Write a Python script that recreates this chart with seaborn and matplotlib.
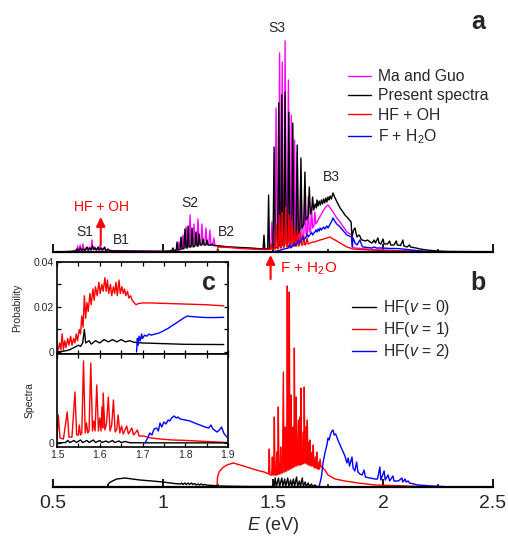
import numpy as np
import matplotlib
matplotlib.use("Agg")
import matplotlib.pyplot as plt
import seaborn as sns
from matplotlib.ticker import MultipleLocator, FixedLocator
from matplotlib.patches import ArrowStyle

# ---------------- data (E in eV, intensity in arbitrary units) ----------------
# Panel a
a_ma = np.array([
 (0.50,0),(0.58,0.5),(0.60,1),(0.607,1),(0.612,6),(0.617,1.5),(0.62,1.5),(0.623,7),(0.628,1.5),(0.632,1.5),
 (0.636,8),(0.641,2),(0.647,2),(0.65,4),(0.655,2),(0.662,2),(0.665,5),(0.67,2),(0.673,2),(0.677,12),(0.682,2.5),
 (0.687,2.5),(0.69,5),(0.695,2),(0.70,2),(0.705,4),(0.709,2),(0.714,7),(0.719,2),(0.727,2),(0.732,3),(0.74,1.5),
 (0.80,1.2),(0.90,1),(1.00,0.8),(1.05,1),(1.068,2),(1.073,10),(1.078,2.5),(1.086,3),(1.091,17),(1.096,4),(1.100,5),
 (1.105,25),(1.110,5),(1.118,6),(1.123,37),(1.128,6),(1.136,7),(1.141,28),(1.146,7),(1.154,8),(1.159,33),(1.164,8),
 (1.172,8),(1.177,28),(1.182,8),(1.190,8),(1.195,24),(1.200,8),(1.208,7),(1.213,22),(1.218,7),(1.226,7),(1.231,14),
 (1.236,7),(1.25,6),(1.30,5),(1.40,3.5),(1.46,2.5),(1.49,3),(1.495,30),(1.50,4),(1.509,4),(1.514,144),(1.519,5),
 (1.525,6),(1.530,199),(1.535,6),(1.538,7),(1.542,190),(1.547,7),(1.551,8),(1.555,211),(1.560,8),(1.565,9),
 (1.570,172),(1.575,9),(1.579,10),(1.583,137),(1.588,10),(1.593,11),(1.598,112),(1.603,11),(1.606,12),(1.61,100),
 (1.615,13),(1.622,14),(1.627,74),(1.632,15),(1.640,17),(1.645,62),(1.65,18),(1.656,19),(1.66,55),(1.665,20),
 (1.671,22),(1.675,45),(1.68,24),(1.686,26),(1.69,40),(1.695,28),(1.70,30),(1.71,34),(1.72,38),(1.73,42),(1.74,45),
 (1.75,47),(1.76,44),(1.773,40),(1.79,34),(1.805,30),(1.82,25),(1.836,20),(1.858,17),(1.862,5),(1.873,4),(1.9,3.5),
 (1.95,2.5),(2.0,2),(2.1,1),(2.2,0.3),(2.5,0)])

a_black = np.array([
 (0.50,0),(0.58,0.5),(0.60,1),(0.61,3),(0.615,1),(0.625,4),(0.63,1.5),(0.64,3),(0.645,1.5),(0.655,5),(0.66,2),
 (0.668,4),(0.673,2),(0.68,6),(0.685,2.5),(0.692,4),(0.697,2),(0.705,5),(0.71,2),(0.72,4),(0.725,2),(0.735,5),
 (0.74,1.5),(0.75,3),(0.76,1.2),(0.80,1),(0.90,0.8),(1.00,0.6),(1.03,1),(1.040,1.5),(1.045,4),(1.05,1.5),(1.060,2),
 (1.064,10),(1.068,2),(1.078,2.5),(1.082,15),(1.087,3),(1.095,3.5),(1.100,23),(1.105,4),(1.110,4),(1.114,26),
 (1.119,5),(1.127,5),(1.132,24),(1.137,5),(1.145,6),(1.150,20),(1.155,6),(1.160,6),(1.164,18),(1.169,7),(1.177,7),
 (1.182,13),(1.187,7),(1.195,7),(1.200,12),(1.205,7),(1.218,7),(1.223,8),(1.23,6.5),(1.26,6),(1.30,5),(1.35,4.5),
 (1.40,4),(1.45,3),(1.455,3),(1.459,17),(1.463,3),(1.476,3),(1.480,57),(1.484,3),(1.50,4),(1.505,105),(1.51,4),
 (1.521,5),(1.526,149),(1.531,6),(1.536,6),(1.540,157),(1.545,7),(1.55,8),(1.555,160),(1.560,8),(1.567,10),
 (1.572,140),(1.577,11),(1.585,12),(1.59,129),(1.595,14),(1.605,16),(1.61,107),(1.615,18),(1.622,22),(1.627,94),
 (1.632,24),(1.640,28),(1.645,80),(1.650,32),(1.660,36),(1.665,65),(1.670,38),(1.676,42),(1.68,55),(1.685,42),
 (1.692,48),(1.697,44),(1.70,52),(1.705,46),(1.71,51),(1.715,47),(1.72,52),(1.725,48),(1.73,53),(1.735,49),
 (1.74,54),(1.745,50),(1.75,55),(1.755,52),(1.76,56),(1.765,53),(1.773,59),(1.78,55),(1.791,50),(1.805,44),
 (1.815,41),(1.827,37),(1.84,34),(1.855,30),(1.859,15),(1.866,22),(1.873,24),(1.878,18),(1.882,15),(1.89,17),
 (1.895,16),(1.9,13),(1.905,12),(1.92,11),(1.93,12),(1.941,10),(1.95,9),(1.96,12),(1.965,9),(1.977,14),(1.982,9),
 (1.99,8),(2.0,13),(2.005,8),(2.02,8),(2.03,11),(2.035,7),(2.05,7),(2.06,11),(2.065,7),(2.08,6.5),(2.09,12),
 (2.095,6),(2.11,5),(2.12,7),(2.125,5),(2.15,4),(2.168,3),(2.2,2),(2.245,1),(2.3,0.5),(2.4,0.3),(2.5,0.2)])

a_red = np.array([
 (0.5,0),(1.245,0),(1.25,5),(1.30,4.5),(1.35,3.5),(1.40,3),(1.45,2.5),(1.488,2.5),(1.492,8),(1.496,3),(1.51,3),
 (1.515,27),(1.52,3),(1.526,4),(1.53,37),(1.535,4),(1.538,4),(1.542,40),(1.547,5),(1.552,5),(1.558,45),(1.563,5),
 (1.568,5),(1.573,37),(1.578,5),(1.582,5),(1.586,32),(1.591,6),(1.594,6),(1.598,24),(1.603,6),(1.607,6),(1.611,22),
 (1.616,6),(1.62,7),(1.625,19),(1.63,7),(1.635,7),(1.64,16),(1.645,7),(1.65,8),(1.655,14),(1.66,8),(1.67,9),
 (1.68,10),(1.69,10),(1.70,11),(1.714,12),(1.73,13),(1.745,14),(1.759,15),(1.773,13),(1.79,11),(1.805,9),(1.82,7),
 (1.836,5),(1.85,4),(1.864,3),(1.9,2.5),(1.95,2),(2.0,1.5),(2.1,1),(2.25,0),(2.5,0)])

a_blue = np.array([
 (1.49,0),(1.52,1),(1.55,3),(1.57,4),(1.575,7),(1.58,4),(1.59,6),(1.595,9),(1.60,6),(1.61,9),(1.615,12),(1.62,9),
 (1.63,12),(1.635,15),(1.64,12),(1.65,15),(1.655,18),(1.66,15),(1.67,18),(1.675,20),(1.68,17),(1.69,20),(1.695,22),
 (1.70,20),(1.705,23),(1.71,21),(1.714,24),(1.72,22),(1.73,25),(1.735,23),(1.745,26),(1.75,24),(1.76,28),(1.765,30),
 (1.773,34),(1.78,31),(1.79,28),(1.805,25),(1.82,21),(1.836,17),(1.857,15),(1.860,5),(1.864,14),(1.873,9),
 (1.882,7),(1.895,12),(1.905,6),(1.909,5),(1.93,4.5),(1.95,4),(1.96,5),(1.97,4),(2.0,4),(2.03,3.5),(2.06,3.5),
 (2.09,3),(2.13,2),(2.17,1),(2.245,0),(2.5,0)])

# Panel b
b_v0 = np.array([
 (0.5,0),(0.748,0),(0.75,2),(0.755,4),(0.77,6),(0.79,8),(0.827,9),(0.86,8),(0.895,7),(0.95,6),(1.0,5),(1.05,3.5),
 (1.08,3),(1.085,4),(1.09,2.5),(1.1,4),(1.105,2.5),(1.115,4),(1.12,2.5),(1.13,4),(1.135,2.5),(1.145,3.5),(1.15,2),
 (1.16,3),(1.165,2),(1.175,3),(1.18,2),(1.19,2.5),(1.2,1.8),(1.23,1.5),(1.25,1),(1.3,0.8),(1.4,0.5),(1.505,0.5),
 (1.51,9),(1.515,0.5),(1.525,9),(1.53,0.5),(1.54,9),(1.545,0.5),(1.553,8),(1.558,0.5),(1.567,9),(1.572,0.5),
 (1.58,7),(1.585,0.5),(1.593,8),(1.598,0.5),(1.607,10),(1.612,0.5),(1.62,6),(1.625,0.5),(1.633,9),(1.638,0.5),
 (1.646,5),(1.651,0.5),(1.66,4),(1.665,0.5),(1.675,3),(1.68,0.5),(1.69,2),(1.7,0.5),(1.72,0.3),(1.75,0),(2.5,0)])

b_v1 = np.array([
 (1.245,0),(1.248,10),(1.255,15),(1.27,19),(1.29,22),(1.32,24),(1.35,22),(1.38,20),(1.41,18),(1.44,16),(1.46,15),
 (1.47,14),(1.48,13),(1.483,38),(1.486,12),(1.494,12),(1.497,30),(1.50,12),(1.503,12),(1.506,70),(1.509,12),
 (1.514,12),(1.517,35),(1.52,12),(1.521,13),(1.524,80),(1.527,13),(1.532,13),(1.535,40),(1.538,14),(1.543,14),
 (1.547,115),(1.55,15),(1.553,15),(1.556,60),(1.559,16),(1.562,16),(1.565,201),(1.568,17),(1.571,17),(1.574,195),
 (1.577,18),(1.579,18),(1.582,92),(1.585,19),(1.588,19),(1.591,60),(1.594,20),(1.595,20),(1.597,139),(1.600,21),
 (1.602,21),(1.605,90),(1.608,21),(1.611,22),(1.615,67),(1.618,22),(1.621,22),(1.623,70),(1.625,22),(1.627,99),
 (1.63,23),(1.635,23),(1.638,55),(1.64,24),(1.642,100),(1.645,24),(1.647,24),(1.650,60),(1.653,23),(1.656,67),
 (1.659,23),(1.662,22),(1.664,45),(1.666,22),(1.668,47),(1.671,22),(1.675,21),(1.678,35),(1.68,21),(1.683,42),
 (1.686,20),(1.69,19),(1.693,30),(1.696,19),(1.699,35),(1.702,18),(1.706,18),(1.709,25),(1.711,18),(1.714,28),
 (1.718,20),(1.722,20),(1.736,17),(1.75,12),(1.782,8),(1.827,6),(1.886,4),(1.964,2),(2.04,1.5),(2.11,1),(2.2,0.3),
 (2.3,0),(2.5,0)])

b_v2 = np.array([
 (1.709,0),(1.72,10),(1.728,25),(1.736,34),(1.745,42),(1.75,49),(1.755,47),(1.762,53),(1.768,56),(1.773,57),
 (1.778,52),(1.785,53),(1.795,47),(1.805,42),(1.815,37),(1.827,31),(1.836,24),(1.842,29),(1.848,21),(1.859,30),
 (1.864,19),(1.872,16),(1.88,25),(1.886,15),(1.895,13),(1.905,12),(1.914,17),(1.92,10),(1.94,9),(1.964,8),
 (1.975,8),(1.986,20),(1.99,7),(2.005,16),(2.01,7),(2.023,12),(2.03,6),(2.045,11),(2.05,6),(2.07,6),(2.086,9),
 (2.09,5),(2.1,8),(2.105,5),(2.114,6),(2.12,4),(2.14,3),(2.159,2),(2.19,1.5),(2.223,1),(2.268,0.5),(2.3,0.2),
 (2.5,0.2)])

# Inset c: probabilities
c_prob_v0 = np.array([
 (1.50,0.0),(1.52,0.0005),(1.53,0.001),(1.54,0.002),(1.55,0.003),(1.555,0.0025),(1.56,0.004),(1.564,0.010),
 (1.567,0.004),(1.575,0.005),(1.58,0.0035),(1.59,0.005),(1.60,0.004),(1.61,0.0055),(1.62,0.0045),(1.63,0.0055),
 (1.64,0.0045),(1.65,0.0055),(1.66,0.0045),(1.67,0.005),(1.68,0.0043),(1.70,0.004),(1.75,0.0037),(1.8,0.0034),
 (1.89,0.0033)])
c_prob_v1 = np.array([
 (1.50,0.002),(1.503,0.001),(1.506,0.004),(1.509,0.001),(1.512,0.008),(1.515,0.001),(1.518,0.005),(1.521,0.002),
 (1.525,0.006),(1.528,0.003),(1.532,0.007),(1.535,0.003),(1.539,0.006),(1.542,0.004),(1.545,0.008),(1.548,0.005),
 (1.552,0.010),(1.555,0.008),(1.558,0.016),(1.561,0.011),(1.564,0.025),(1.567,0.015),(1.570,0.022),(1.573,0.018),
 (1.577,0.026),(1.58,0.021),(1.584,0.028),(1.587,0.023),(1.59,0.029),(1.594,0.025),(1.598,0.031),(1.601,0.026),
 (1.605,0.030),(1.608,0.027),(1.612,0.033),(1.615,0.027),(1.618,0.032),(1.621,0.026),(1.625,0.030),(1.628,0.025),
 (1.632,0.029),(1.635,0.026),(1.638,0.031),(1.641,0.025),(1.645,0.032),(1.648,0.026),(1.652,0.029),(1.655,0.026),
 (1.658,0.028),(1.661,0.025),(1.665,0.027),(1.668,0.024),(1.672,0.025),(1.676,0.023),(1.68,0.022),(1.685,0.021),
 (1.69,0.0215),(1.70,0.0218),(1.72,0.0218),(1.75,0.0216),(1.8,0.0213),(1.85,0.021),(1.89,0.0205)])
c_prob_v2 = np.array([
 (1.686,0),(1.688,0.006),(1.69,0.003),(1.692,0.007),(1.695,0.005),(1.698,0.008),(1.70,0.006),(1.705,0.0075),
 (1.71,0.007),(1.715,0.008),(1.72,0.0075),(1.73,0.008),(1.74,0.0085),(1.75,0.0095),(1.76,0.0105),(1.77,0.0118),
 (1.78,0.013),(1.79,0.0143),(1.80,0.0155),(1.805,0.016),(1.81,0.0158),(1.82,0.0157),(1.83,0.0155),(1.85,0.0153),
 (1.87,0.0153),(1.89,0.0154)])

# Inset c: spectra
c_spec_v0 = np.array([
 (1.50,0),(1.52,0.5),(1.525,2.5),(1.53,0.5),(1.54,2.5),(1.545,0.5),(1.555,3),(1.56,0.5),(1.57,2.5),(1.575,0.5),
 (1.585,3),(1.59,0.5),(1.6,2.5),(1.605,0.5),(1.615,2),(1.62,0.5),(1.63,2.5),(1.635,0.5),(1.645,2),(1.65,0.5),
 (1.66,1.5),(1.67,0.3),(1.7,0.2),(1.9,0.1)])
c_spec_v1 = np.array([
 (1.50,5),(1.503,28),(1.507,5),(1.515,4),(1.524,31),(1.528,6),(1.535,6),(1.542,51),(1.546,8),(1.55,8),(1.552,18),
 (1.555,8),(1.558,10),(1.562,82),(1.566,10),(1.569,20),(1.572,10),(1.575,12),(1.579,80),(1.583,12),(1.586,22),
 (1.589,12),(1.593,58),(1.597,12),(1.60,25),(1.603,12),(1.605,36),(1.607,15),(1.608,50),(1.612,13),(1.616,20),
 (1.62,46),(1.624,12),(1.628,18),(1.632,43),(1.636,11),(1.64,14),(1.643,28),(1.647,10),(1.651,17),(1.655,9),
 (1.659,13),(1.663,17),(1.667,9),(1.671,12),(1.675,15),(1.679,8),(1.683,10),(1.688,13),(1.692,7),(1.702,7),
 (1.72,5),(1.741,4),(1.77,3),(1.795,2.7),(1.85,1.5),(1.897,0.5)])
c_spec_v2 = np.array([
 (1.706,0),(1.712,5),(1.717,10),(1.722,8),(1.727,14),(1.733,15),(1.737,12),(1.741,20),(1.745,16),(1.75,21),
 (1.755,19),(1.76,23),(1.764,22),(1.768,25),(1.774,27),(1.779,25),(1.783,26),(1.788,24),(1.80,23),(1.811,22),
 (1.822,20),(1.834,18),(1.846,16),(1.855,15),(1.86,18),(1.865,14),(1.874,11),(1.88,13),(1.885,16),(1.89,10),
 (1.897,6)])

legend_a = ["Ma and Guo", "Present spectra", "HF + OH", "F + H$_2$O"]
legend_b = ["HF($\\mathit{v}$ = 0)", "HF($\\mathit{v}$ = 1)", "HF($\\mathit{v}$ = 2)"]
x_ticks_main = [0.5, 1, 1.5, 2, 2.5]
x_ticks_inset = [1.5, 1.6, 1.7, 1.8, 1.9]

RED, BLUE, MAG, BLK = "#ff0000", "#0000ff", "#ff00ff", "#000000"

# ---------------- style ----------------
sns.set_theme(style="white")
plt.rcParams['font.family'] = ['Liberation Sans', 'DejaVu Sans']
plt.rcParams['mathtext.fontset'] = 'custom'
plt.rcParams['mathtext.rm'] = 'Liberation Sans'
plt.rcParams['mathtext.it'] = 'Liberation Sans:italic'
plt.rcParams['mathtext.bf'] = 'Liberation Sans:bold'

W, H = 508, 536
fig = plt.figure(figsize=(W / 100, H / 100), dpi=100)
fig.patch.set_facecolor("white")

def fx(px):
    return px / W

def fy(py):
    return 1 - py / H

ax_a = fig.add_axes([fx(53), fy(252), fx(440), 252 / H])
ax_b = fig.add_axes([fx(53), fy(487), fx(440), (487 - 255) / H])
ax_p = fig.add_axes([fx(57), fy(354), fx(171), 92 / H])
ax_s = fig.add_axes([fx(57), fy(447), fx(171), 93 / H])

LW = 1.0

def line(ax, arr, color, lw=LW):
    sns.lineplot(x=arr[:, 0], y=arr[:, 1], ax=ax, color=color, lw=lw,
                 estimator=None, sort=False, legend=False)

# ---- panel a ----
line(ax_a, a_ma, MAG)
line(ax_a, a_black, BLK)
line(ax_a, a_red, RED)
line(ax_a, a_blue, BLUE)

# ---- panel b ----
line(ax_b, b_v1, RED)
line(ax_b, b_v2, BLUE)
line(ax_b, b_v0, BLK)

for ax, top in ((ax_a, 252), (ax_b, 232)):
    ax.set_xlim(0.5, 2.5)
    ax.set_ylim(0, top)
    ax.set_facecolor("none")
    for s in ("left", "right", "top"):
        ax.spines[s].set_visible(False)
    ax.spines["bottom"].set_linewidth(1.6)
    ax.spines["bottom"].set_color("black")
    ax.set_yticks([])
    ax.xaxis.set_major_locator(FixedLocator(x_ticks_main))
    ax.xaxis.set_minor_locator(MultipleLocator(0.25))
    ax.tick_params(axis="x", which="major", direction="in", length=5.5, width=1.3,
                   color="black", bottom=True, top=False, labelsize=14, pad=6)
    ax.tick_params(axis="x", which="minor", direction="in", length=2.5, width=1.1,
                   color="black", bottom=True, top=False)
    ax.set_xlabel("")
    ax.set_ylabel("")
ax_a.tick_params(axis="x", labelbottom=False)
ax_b.set_xticklabels(["0.5", "1", "1.5", "2", "2.5"])
ax_b.set_xlabel("$\\mathit{E}$ (eV)", fontsize=13)
ax_b.xaxis.set_label_coords(0.5, (487 - 515) / 232)

# annotations panel a
ax_a.text(0.645, 20, "S1", fontsize=10, ha="center", va="center")
ax_a.text(0.812, 12, "B1", fontsize=10, ha="center", va="center")
ax_a.text(1.12, 49, "S2", fontsize=10, ha="center", va="center")
ax_a.text(1.29, 20, "B2", fontsize=10, ha="center", va="center")
ax_a.text(1.517, 224, "S3", fontsize=10, ha="center", va="center")
ax_a.text(1.764, 75, "B3", fontsize=10, ha="center", va="center")
ax_a.text(0.721, 45, "HF + OH", fontsize=10, color=RED, ha="center", va="center")
arr_style = ArrowStyle("-|>", head_length=0.45, head_width=0.22)
ax_a.annotate("", xy=(0.717, 35), xytext=(0.717, 7),
              arrowprops=dict(arrowstyle=arr_style, color=RED, lw=1.5, mutation_scale=12,
                              shrinkA=0, shrinkB=0))
fig.text(fx(478), fy(22), "a", fontsize=18, fontweight="bold", ha="center", va="center")
fig.text(fx(478), fy(283), "b", fontsize=18, fontweight="bold", ha="center", va="center")

# F + H2O arrow between the panels
fig.add_artist(matplotlib.patches.FancyArrowPatch(
    (fx(270.6), fy(279)), (fx(270.6), fy(255)), transform=fig.transFigure,
    arrowstyle=arr_style, color=RED, lw=1.5, mutation_scale=12, shrinkA=0, shrinkB=0))
fig.text(fx(280), fy(269), "F + H$_2$O", fontsize=11, color=RED, ha="left", va="center")

# legends
h_a = [matplotlib.lines.Line2D([], [], color=c, lw=1.0) for c in (MAG, BLK, RED, BLUE)]
ax_a.legend(h_a, legend_a, loc="upper left", bbox_to_anchor=(fx(348), fy(69)),
            bbox_transform=fig.transFigure, frameon=False, fontsize=11.3, borderpad=0,
            borderaxespad=0, handlelength=1.45, handletextpad=0.45, labelspacing=0.28)
h_b = [matplotlib.lines.Line2D([], [], color=c, lw=1.0) for c in (BLK, RED, BLUE)]
ax_b.legend(h_b, legend_b, loc="upper left", bbox_to_anchor=(fx(352), fy(298)),
            bbox_transform=fig.transFigure, frameon=False, fontsize=11.3, borderpad=0,
            borderaxespad=0, handlelength=1.5, handletextpad=0.45, labelspacing=0.2)

# ---- inset c ----
line(ax_p, c_prob_v1, RED)
line(ax_p, c_prob_v0, BLK)
line(ax_p, c_prob_v2, BLUE)
line(ax_s, c_spec_v1, RED)
line(ax_s, c_spec_v0, BLK)
line(ax_s, c_spec_v2, BLUE)

for ax in (ax_p, ax_s):
    ax.set_facecolor("white")
    ax.set_xlim(1.5, 1.9)
    for s in ax.spines.values():
        s.set_visible(True)
        s.set_linewidth(1.2)
        s.set_color("black")
    ax.xaxis.set_major_locator(FixedLocator(x_ticks_inset))
    ax.xaxis.set_minor_locator(MultipleLocator(0.05))
    ax.tick_params(which="both", direction="in", top=True, right=True, bottom=True, left=True,
                   length=3, width=0.9, color="black", labelsize=7.5, pad=2)
    ax.set_xlabel("")

ax_p.set_ylim(-0.0009, 0.04)
ax_p.set_yticks([0, 0.02, 0.04])
ax_p.set_yticklabels(["0", "0.02", "0.04"])
ax_p.yaxis.set_minor_locator(MultipleLocator(0.01))
ax_p.tick_params(axis="x", labelbottom=False)
ax_p.set_ylabel("Probability", fontsize=7.5)
ax_p.yaxis.set_label_coords((22 - 57) / 171, 0.5)
ax_p.text(0.889, 0.772, "c", transform=ax_p.transAxes, fontsize=18, fontweight="bold",
          ha="center", va="center")

ax_s.set_ylim(-4, 89)
ax_s.set_yticks([0])
ax_s.set_yticklabels(["0"])
ax_s.set_xticklabels(["1.5", "1.6", "1.7", "1.8", "1.9"])
ax_s.set_ylabel("Spectra", fontsize=7.5)
ax_s.yaxis.set_label_coords((35 - 57) / 171, 0.5)

fig.savefig("out.png", dpi=100, facecolor="white")
